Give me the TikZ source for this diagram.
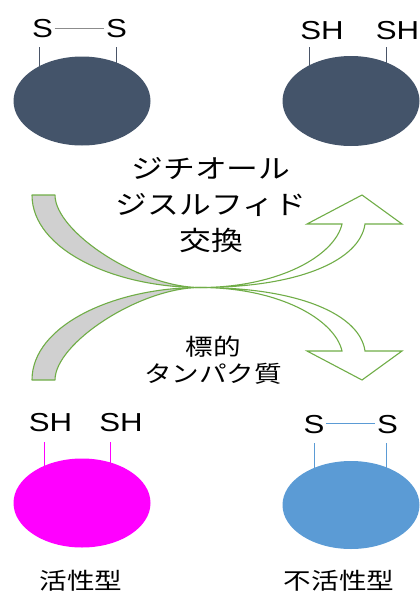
\documentclass[tikz,border=0pt]{standalone}
\usepackage{fontspec}
\setmainfont{Liberation Sans}
\newfontfamily\cjk{Noto Sans CJK JP}
\usetikzlibrary{shapes.geometric,backgrounds}
\definecolor{slate}{HTML}{44546A}
\definecolor{stick}{HTML}{4A5568}
\definecolor{ssgray}{HTML}{8C8C8C}
\definecolor{magent}{HTML}{FF00FF}
\definecolor{skyblue}{HTML}{5B9BD5}
\definecolor{agreen}{HTML}{70AD47}
\definecolor{tailgray}{HTML}{D0D0D0}
\newcommand{\wx}[1]{\scalebox{1.2}[1]{#1}}
\tikzset{
  prot/.style={ellipse, draw=none, inner sep=0pt, outer sep=0pt, minimum width=137pt, minimum height=89pt},
  atom/.style={inner sep=1.5pt, font=\fontsize{26}{28}\selectfont},
  stickline/.style={line width=1pt},
  bigtext/.style={align=center, inner sep=0pt, font=\cjk\fontsize{26.5}{36}\selectfont},
  midtext/.style={align=center, inner sep=0pt, font=\cjk\fontsize{23}{27}\selectfont},
  tail/.style={draw=agreen, fill=tailgray, line width=1.1pt, line join=round},
  head/.style={draw=agreen, fill=white, line width=1.1pt, line join=miter},
}
\begin{document}
\begin{tikzpicture}[x=1pt, y=-1pt]
\useasboundingbox (0,0) rectangle (420,592);

% proteins
\node[prot, fill=slate] (p1) at (82,101) {};
\node[prot, fill=slate, minimum height=90pt] (p2) at (351,101) {};
\node[prot, fill=magent] (p3) at (82,503) {};
\node[prot, fill=skyblue, minimum height=88pt] (p4) at (351,505) {};

% atom labels
\node[atom] (a1) at (42.5,29) {\wx{S}};
\node[atom] (a2) at (116.5,29) {\wx{S}};
\node[atom] (b1) at (322,30.5) {\wx{SH}};
\node[atom] (b2) at (397.5,30.5) {\wx{SH}};
\node[atom] (c1) at (50.5,423) {\wx{SH}};
\node[atom] (c2) at (121,423) {\wx{SH}};
\node[atom] (d1) at (314,425) {\wx{S}};
\node[atom] (d2) at (387.5,425) {\wx{S}};

% stick tops
\coordinate (ka1) at (39.5,47);
\coordinate (ka2) at (116.7,47);
\coordinate (kb1) at (309.3,47);
\coordinate (kb2) at (386.7,47);
\coordinate (kc1) at (44,442);
\coordinate (kc2) at (110,442);
\coordinate (kd1) at (314.3,443);
\coordinate (kd2) at (386.7,443);

\begin{scope}[on background layer]
  \draw[stickline, stick] (ka1) -- (ka1 |- p1.center);
  \draw[stickline, stick] (ka2) -- (ka2 |- p1.center);
  \draw[stickline, stick] (kb1) -- (kb1 |- p2.center);
  \draw[stickline, stick] (kb2) -- (kb2 |- p2.center);
  \draw[stickline, magent] (kc1) -- (kc1 |- p3.center);
  \draw[stickline, magent] (kc2) -- (kc2 |- p3.center);
  \draw[stickline, skyblue] (kd1) -- (kd1 |- p4.center);
  \draw[stickline, skyblue] (kd2) -- (kd2 |- p4.center);
\end{scope}

% S-S bonds
\draw[line width=1pt, ssgray] ([yshift=1pt]a1.east) -- ([yshift=1pt]a2.west);
\draw[line width=1pt, skyblue] ([yshift=1.5pt]d1.east) -- ([yshift=1.5pt]d2.west);

% exchange arrows
\coordinate (X) at (200,287.5);
\draw[tail] (32,195) -- (55,195) .. controls (55,232) and (140,287.5) .. (X)
  .. controls (115,287.5) and (32,250) .. (32,195) -- cycle;
\draw[tail] (32,380) -- (55,380) .. controls (55,343) and (140,287.5) .. (X)
  .. controls (115,287.5) and (32,325) .. (32,380) -- cycle;
\draw[head] (342,224) -- (307,224) -- (362,195) -- (402,224) -- (365,224)
  .. controls (360,260) and (300,287.5) .. (X)
  .. controls (280,287.5) and (335,255) .. (342,224) -- cycle;
\draw[head] (342,351) -- (307,351) -- (362,380) -- (402,351) -- (365,351)
  .. controls (360,315) and (300,287.5) .. (X)
  .. controls (280,287.5) and (335,320) .. (342,351) -- cycle;

% texts
\node[bigtext] (t1) at (211,205) {\wx{ジチオール}\\\wx{ジスルフィド}\\\wx{交換}};
\node[midtext] (t2) at (213,360.5) {\wx{標的}\\\wx{タンパク質}};
\node[midtext] (l1) at (81,581) {\wx{活性型}};
\node[midtext] (l2) at (339,581) {\wx{不活性型}};
\end{tikzpicture}
\end{document}
